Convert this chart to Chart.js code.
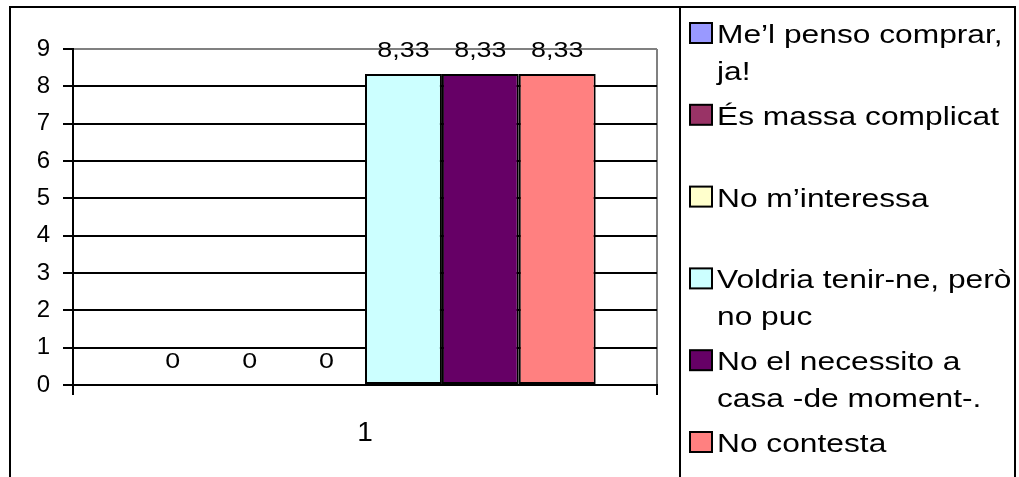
<!DOCTYPE html>
<html lang="ca">
<head>
<meta charset="UTF-8">
<title>Enquesta</title>
<script src="https://cdn.jsdelivr.net/npm/chart.js"></script>
<style>
  body { margin: 0; padding: 0; background: #fff; }
  #wrap { width: 1019px; height: 477px; }
</style>
</head>
<body>
<div id="wrap">
  <canvas id="grafic" width="1019" height="477"></canvas>
</div>
<script>
// Dades llegides del gràfic
const categories = ['1'];
const seriesNames = [
  ['Me\u2019l penso comprar,', 'ja!'],
  ['\u00C9s massa complicat'],
  ['No m\u2019interessa'],
  ['Voldria tenir-ne, per\u00F2', 'no puc'],
  ['No el necessito a', 'casa -de moment-.'],
  ['No contesta']
];
const seriesValues = [[0], [0], [0], [8.33], [8.33], [8.33]];
const seriesColors = ['#9999FF', '#993366', '#FFFFCC', '#CCFFFF', '#660066', '#FF8080'];
const yMin = 0, yMax = 9, yStep = 1;

const FONT = "'Liberation Sans', Arial, sans-serif";
const STRETCH = 1.22; // el text original surt una mica eixamplat

function stretchedText(ctx, text, x, y, align) {
  ctx.save();
  ctx.translate(x, y);
  ctx.scale(STRETCH, 1);
  ctx.textAlign = align;
  ctx.fillText(text, 0, 0);
  ctx.restore();
}

// marc exterior i separació de la llegenda
const framePlugin = {
  id: 'frame',
  beforeDraw(chart) {
    const ctx = chart.ctx;
    ctx.save();
    ctx.fillStyle = '#fff';
    ctx.fillRect(0, 0, chart.width, chart.height);
    ctx.strokeStyle = '#000';
    ctx.lineWidth = 2;
    ctx.beginPath();
    ctx.moveTo(10, chart.height);
    ctx.lineTo(10, 7);
    ctx.lineTo(1015, 7);
    ctx.lineTo(1015, chart.height);
    ctx.moveTo(680, 7);
    ctx.lineTo(680, chart.height);
    ctx.stroke();
    ctx.restore();
  }
};

// etiquetes de valor damunt de cada barra
const valueLabels = {
  id: 'valueLabels',
  afterDatasetsDraw(chart) {
    const ctx = chart.ctx;
    ctx.save();
    ctx.fillStyle = '#000';
    ctx.font = '22px ' + FONT;
    ctx.textBaseline = 'alphabetic';
    chart.data.datasets.forEach((ds, i) => {
      chart.getDatasetMeta(i).data.forEach((bar, j) => {
        const txt = String(ds.data[j]).replace('.', ',');
        stretchedText(ctx, txt, bar.x, bar.y - 17, 'center');
      });
    });
    ctx.restore();
  }
};

// llegenda dibuixada a mà (Excel reparteix les entrades)
const sideLegend = {
  id: 'sideLegend',
  afterDraw(chart) {
    const ctx = chart.ctx;
    ctx.save();
    ctx.font = '26px ' + FONT;
    ctx.textBaseline = 'alphabetic';
    chart.data.datasets.forEach((ds, i) => {
      const base = 43 + 81.8 * i;
      ctx.fillStyle = ds.backgroundColor;
      ctx.fillRect(690, base - 20, 22, 20);
      ctx.strokeStyle = '#000';
      ctx.lineWidth = 2;
      ctx.strokeRect(690, base - 20, 22, 20);
      ctx.fillStyle = '#000';
      seriesNames[i].forEach((line, k) => {
        stretchedText(ctx, line, 717, base + k * 37, 'left');
      });
    });
    ctx.restore();
  }
};

const ctx = document.getElementById('grafic').getContext('2d');
const grafic = new Chart(ctx, {
  type: 'bar',
  data: {
    labels: categories,
    datasets: seriesNames.map((name, i) => ({
      label: name.join(' '),
      data: seriesValues[i],
      backgroundColor: seriesColors[i],
      borderColor: '#000',
      borderWidth: 2,
      borderSkipped: false,
      barPercentage: 1,
      categoryPercentage: 0.79
    }))
  },
  options: {
    responsive: false,
    animation: false,
    layout: { padding: { top: 49, right: 362, left: 0, bottom: 0 } },
    plugins: {
      legend: { display: false },
      tooltip: { enabled: false }
    },
    scales: {
      x: {
        offset: true,
        grid: {
          offset: true,
          color: c => c.index === 0 ? '#000' : '#808080',
          tickColor: '#000',
          tickLength: 10,
          lineWidth: 2
        },
        border: { color: '#000', width: 2 },
        ticks: { color: '#000', font: { family: FONT, size: 28 }, padding: 21 },
        afterFit: s => { s.height = 92; }
      },
      y: {
        min: yMin,
        max: yMax,
        grid: {
          color: c => (c.tick && c.tick.value === yMax) ? '#808080' : '#000',
          tickColor: '#000',
          tickLength: 10,
          lineWidth: 2
        },
        border: { color: '#000', width: 2 },
        ticks: { stepSize: yStep, color: '#000', font: { family: FONT, size: 24 }, padding: 13 },
        afterFit: s => { s.width = 73; }
      }
    }
  },
  plugins: [framePlugin, valueLabels, sideLegend]
});
</script>
</body>
</html>
